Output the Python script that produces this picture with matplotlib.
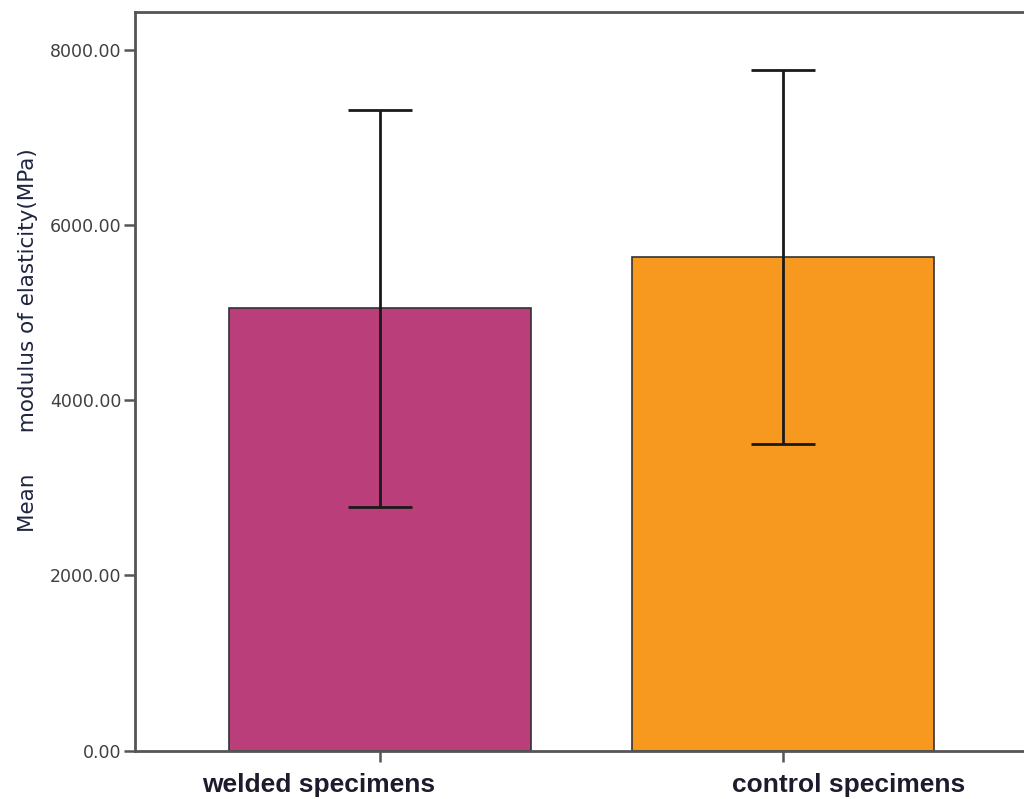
import matplotlib
matplotlib.use("Agg")
import matplotlib.pyplot as plt
import numpy as np

# data
groups = ["welded specimens", "control specimens"]
means = [5050, 5635]
err = [2265, 2135]
colors = ["#B93E7A", "#F7981F"]
yticks = [0, 2000, 4000, 6000, 8000]

narrow = ["Liberation Sans Narrow", "DejaVu Sans Condensed", "DejaVu Sans"]

fig = plt.figure(figsize=(10.24, 7.99), dpi=100)
ax = fig.add_axes([0.1318, 0.0604, 0.8682, 0.9246])

x = np.arange(len(groups))
ax.bar(x, means, width=0.75, color=colors, edgecolor="#333333", linewidth=1.2, zorder=2)
ax.errorbar(x, means, yerr=err, fmt="none", ecolor="#1a1a1a", elinewidth=2,
            capsize=23, capthick=2, zorder=3)

ax.set_xlim(-0.608, 1.598)
ax.set_ylim(0, 8428)

ax.set_yticks(yticks)
ax.set_yticklabels(["%.2f" % v for v in yticks], family=narrow, fontsize=12.5, color="#404040")
ax.set_xticks(x)
ax.set_xticklabels([])
ax.tick_params(axis="both", direction="out", length=8, width=1.8, color="#555555", pad=2)

for s in ["left", "top", "bottom"]:
    ax.spines[s].set_color("#555555")
    ax.spines[s].set_linewidth(2)
ax.spines["right"].set_visible(False)

# category labels sit a bit off their ticks in the original
label_x = [-0.151, 1.164]
for lx, g in zip(label_x, groups):
    ax.text(lx, -0.03, g, transform=ax.get_xaxis_transform(), ha="center", va="top",
            fontsize=19, fontweight="bold", family="Liberation Sans", color="#1c1c2c")

fig.text(28 / 1024, 1 - 340 / 799, "Mean      modulus of elasticity(MPa)", rotation=90,
         ha="center", va="center", fontsize=15.5, family=narrow, color="#1f2540")

fig.savefig("out.png", dpi=100)
